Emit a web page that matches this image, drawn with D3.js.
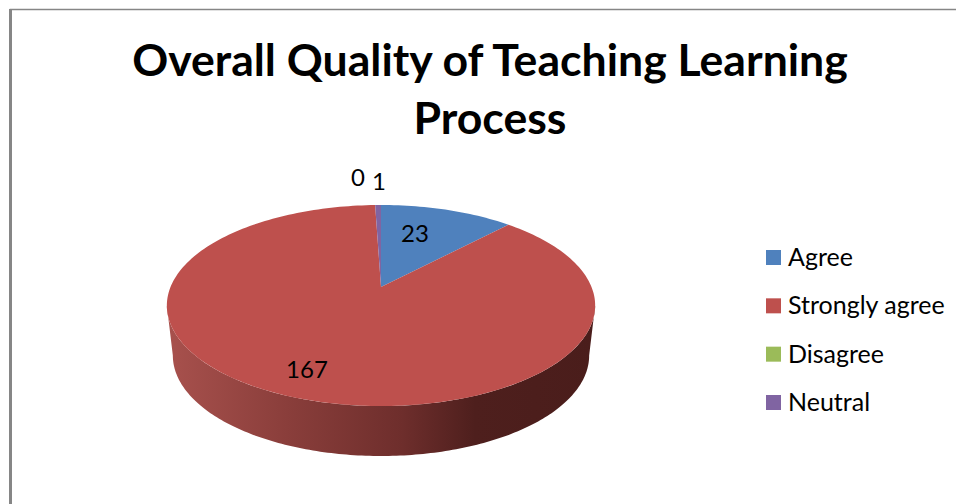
<!DOCTYPE html>
<html><head><meta charset="utf-8">
<script src="https://cdn.jsdelivr.net/npm/d3@7"></script>
<style>html,body{margin:0;padding:0;background:#fff}svg{display:block}text{font-family:Lato,"Open Sans",sans-serif;fill:#000}</style>
</head><body><svg id="c" width="956" height="504"></svg>
<script>
const titleLines = ["Overall Quality of Teaching Learning", "Process"];
const categories = ["Agree", "Strongly agree", "Disagree", "Neutral"];
const values = [23, 167, 0, 1];
const colors = ["#4f81bd", "#be504d", "#9bbb59", "#8064a2"];
const wallStops = [[0, "#a8514d"], [0.28, "#8a3e3b"], [0.55, "#6e2e2c"], [0.72, "#4e1f1d"], [1, "#4a1d1b"]];

const svg = d3.select("#c");
const defs = svg.append("defs");

// frame
svg.append("path").attr("d", "M10.5,504V9.5H956").attr("fill", "none").attr("stroke", "#868686").attr("stroke-width", 1.5);
svg.append("rect").attr("x", 9).attr("y", 9).attr("width", 3).attr("height", 495).attr("fill", "#868686");

// title
svg.selectAll("text.title").data(titleLines).join("text").attr("class", "title")
  .attr("x", 490).attr("y", (d, i) => 76 + i * 58).attr("text-anchor", "middle")
  .attr("font-weight", 700).attr("font-size", 44.6).text(d => d);

// perspective projection of the unit disc onto the tilted pie
const C = -0.184, cx = 381, cy = 287, A = 44.3, D = 210.5;
const project = (t, r = 1, k = 1, dy = 0) => {
  const u = Math.sin(t) * r, v = -Math.cos(t) * r, w = 1 + C * v;
  return [cx + D * k * u / w, (A * v + cy) / w + dy];
};
const pie = d3.pie().sort(null).value(d => d).startAngle(0).endAngle(2 * Math.PI);
const slices = pie(values);
const line = d3.line();

// side wall: front half of the rim, from widest point to widest point, down to the lower rim
const xL = cx - 214, xR = cx + 214;
const grad = defs.append("linearGradient").attr("id", "wall").attr("gradientUnits", "userSpaceOnUse")
  .attr("x1", xL).attr("x2", xR).attr("y1", 0).attr("y2", 0);
grad.selectAll("stop").data(wallStops).join("stop").attr("offset", d => d[0]).attr("stop-color", d => d[1]);

const tStart = Math.acos(C), tEnd = 2 * Math.PI - tStart;
const ts = d3.range(0, 181).map(i => tStart + (tEnd - tStart) * i / 180);
const wallPts = ts.map(t => project(t)).concat(ts.slice().reverse().map(t => project(t, 1, 0.972, 50)));
svg.append("path").attr("d", line(wallPts) + "Z").attr("fill", "url(#wall)");

// top surface
svg.selectAll("path.slice").data(slices).join("path").attr("class", "slice")
  .attr("fill", (d, i) => colors[i])
  .attr("d", d => {
    const n = Math.max(2, Math.ceil((d.endAngle - d.startAngle) * 40));
    const pts = d3.range(n + 1).map(i => project(d.startAngle + (d.endAngle - d.startAngle) * i / n));
    return line([[cx, cy], ...pts]) + "Z";
  });

// data labels
const labelPos = [[415, 242], [307, 378], [358, 186], [379, 190]];
svg.selectAll("text.lab").data(values).join("text").attr("class", "lab")
  .attr("x", (d, i) => labelPos[i][0]).attr("y", (d, i) => labelPos[i][1])
  .attr("text-anchor", "middle").attr("font-size", 24).text(d => d);

// legend
const legendY = d3.scalePoint().domain(categories).range([258, 403]);
const g = svg.selectAll("g.leg").data(categories).join("g").attr("class", "leg")
  .attr("transform", d => `translate(766,${legendY(d)})`);
g.append("rect").attr("y", -8).attr("width", 15).attr("height", 15).attr("fill", (d, i) => colors[i]);
g.append("text").attr("x", 22).attr("y", 8).attr("font-size", 25).text(d => d);
</script></body></html>
